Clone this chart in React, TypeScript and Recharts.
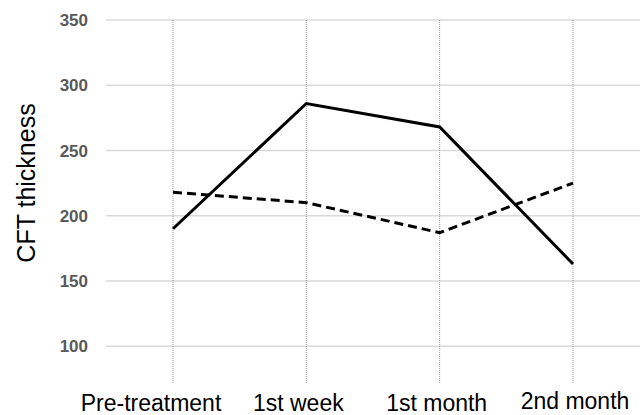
import React from 'react';
import { LineChart, Line, XAxis, YAxis, CartesianGrid, Label } from 'recharts';

const timepoints = ['Pre-treatment', '1st week', '1st month', '2nd month'];
const solidSeries = [190, 286, 268, 163];
const dashedSeries = [218, 210, 187, 225];
const yTicks = [100, 150, 200, 250, 300, 350];

// small nudges so tick labels sit like the original
const labelShift = [-22, -8, -3, 2];
const labelLift = [0, 0, 0, -2];

const data = timepoints.map((t, i) => ({
  name: t,
  solid: solidSeries[i],
  dashed: dashedSeries[i],
}));

const XTick = (props: any) => {
  const { x, y, payload, index } = props;
  return (
    <text
      x={x + labelShift[index]}
      y={y + labelLift[index]}
      dy="0.71em"
      textAnchor="middle"
      fill="#000"
      fontSize={23}
      fontFamily="'Liberation Sans', Arial, sans-serif"
    >
      {payload.value}
    </text>
  );
};

const YTitle = () => (
  <text
    x={35}
    y={183}
    transform="rotate(-90 35 183)"
    textAnchor="middle"
    fill="#000"
    fontSize={25}
    fontFamily="'Liberation Sans', Arial, sans-serif"
  >
    CFT thickness
  </text>
);

export default function App() {
  return (
    <div style={{ position: 'absolute', left: 0, top: 0, width: 642, height: 415, background: '#fff' }}>
      <LineChart width={642} height={415} data={data} margin={{ top: 20, right: 2, bottom: 0, left: 0 }}>
        <CartesianGrid horizontal vertical={false} syncWithTicks stroke="#d9d9d9" strokeWidth={1.5} />
        <CartesianGrid horizontal={false} vertical syncWithTicks stroke="#9a9a9a" strokeDasharray="1 1" />
        <XAxis
          dataKey="name"
          axisLine={false}
          tickLine={false}
          tickSize={0}
          tickMargin={11}
          height={31}
          interval={0}
          padding={{ left: 67, right: 67 }}
          tick={<XTick />}
        />
        <YAxis
          domain={[71, 350]}
          ticks={yTicks}
          axisLine={false}
          tickLine={false}
          tickSize={0}
          tickMargin={18}
          width={106}
          allowDataOverflow
          tick={{ fill: '#595959', fontSize: 17, fontWeight: 'bold', fontFamily: "'Liberation Sans', Arial, sans-serif" }}
        >
          <Label content={<YTitle />} />
        </YAxis>
        <Line
          type="linear"
          dataKey="dashed"
          stroke="#000"
          strokeWidth={3}
          strokeDasharray="9 5"
          dot={false}
          activeDot={false}
          isAnimationActive={false}
        />
        <Line
          type="linear"
          dataKey="solid"
          stroke="#000"
          strokeWidth={3}
          dot={false}
          activeDot={false}
          isAnimationActive={false}
        />
      </LineChart>
    </div>
  );
}
